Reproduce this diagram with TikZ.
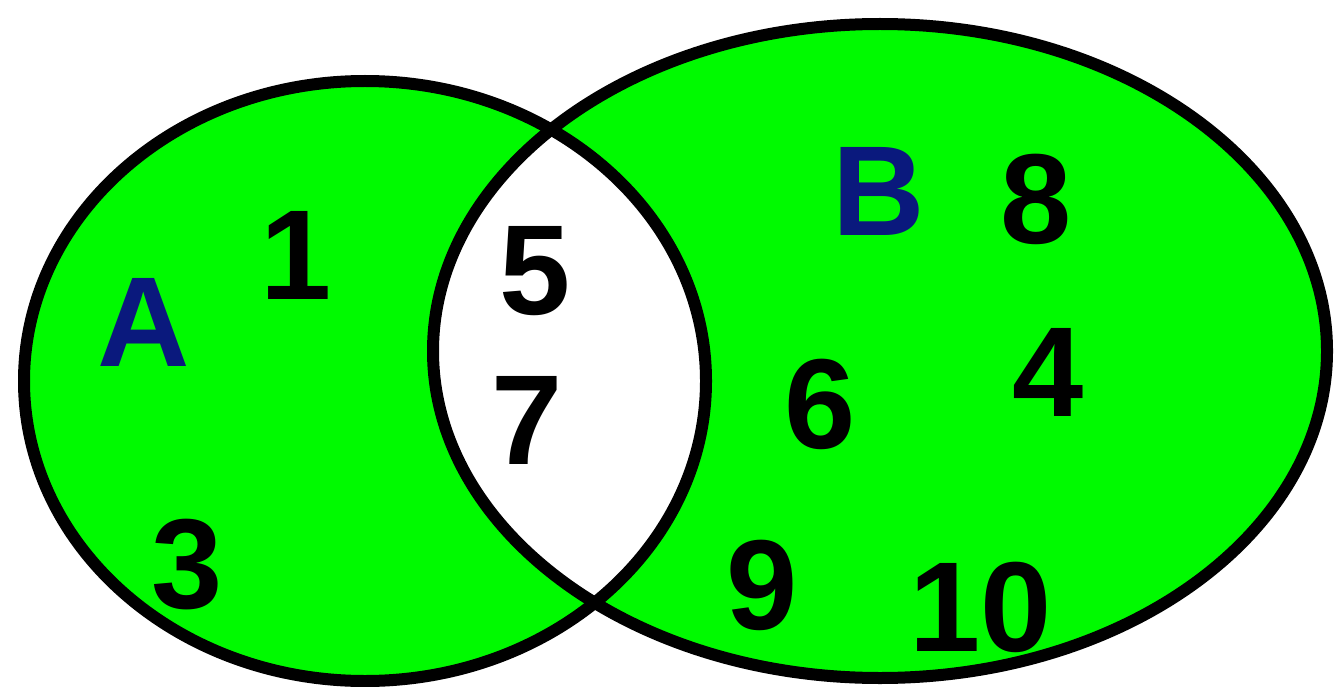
\documentclass[tikz,border=0pt]{standalone}
\usepackage{fontspec}
\setmainfont{Liberation Sans}
\definecolor{vgreen}{RGB}{0,250,0}
\definecolor{setblue}{RGB}{10,25,125}
\begin{document}
\begin{tikzpicture}[x=1pt,y=-1pt,
  lbl/.style={inner sep=0pt,font=\fontsize{128}{128}\selectfont\bfseries},
  setlbl/.style={lbl,text=setblue},
  outline/.style={draw=black,line width=12pt}]
\useasboundingbox (0,0) rectangle (1337,687);
\fill[white] (0,0) rectangle (1337,687);
\coordinate (ca) at (365,381);
\coordinate (cb) at (880,351);
\fill[vgreen] (ca) ellipse [x radius=341, y radius=300];
\fill[vgreen] (cb) ellipse [x radius=447, y radius=327];
\begin{scope}
  \clip (ca) ellipse [x radius=341, y radius=300];
  \fill[white] (cb) ellipse [x radius=447, y radius=327];
\end{scope}
\draw[outline] (ca) ellipse [x radius=341, y radius=300];
\draw[outline] (cb) ellipse [x radius=447, y radius=327];
\node[setlbl] (A) at (144,322) {A};
\node[setlbl] (B) at (879,191) {B};
\node[lbl] (n1) at (296,255) {1};
\node[lbl] (n3) at (187,565) {3};
\node[lbl] (n5) at (535,271) {5};
\node[lbl] (n7) at (527,420) {7};
\node[lbl] (n8) at (1036,199) {8};
\node[lbl] (n6) at (820,404) {6};
\node[lbl] (n4) at (1048,372) {4};
\node[lbl] (n9) at (762,585) {9};
\node[lbl] (n10) at (981,607) {10};
\end{tikzpicture}
\end{document}
